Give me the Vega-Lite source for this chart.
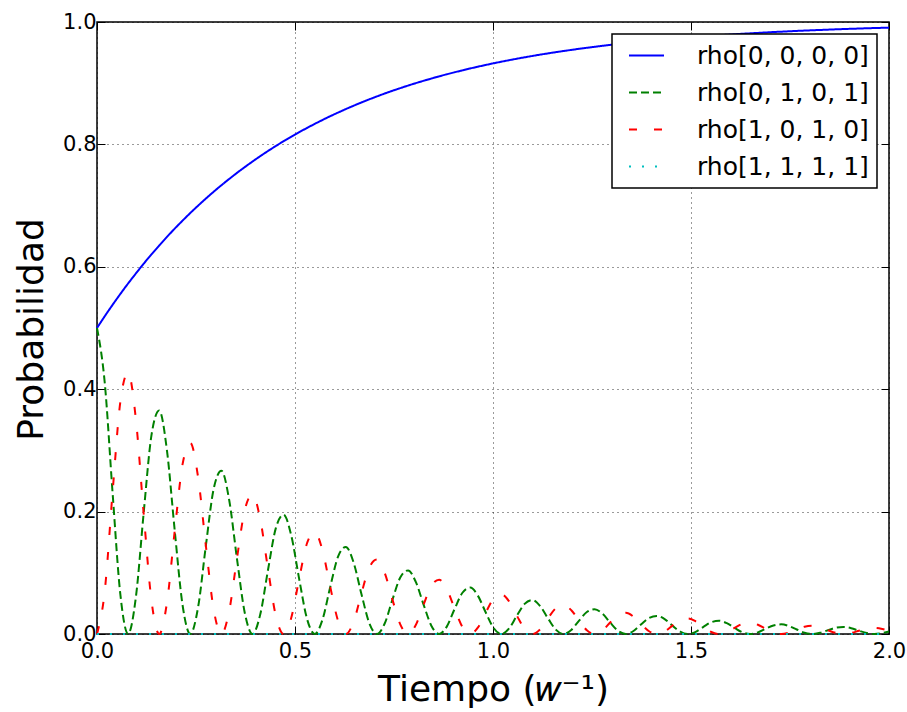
{
"$schema": "https://vega.github.io/schema/vega-lite/v6.json",
"width": 792, "height": 612,
"autosize": {"type": "none"},
"padding": {"left": 97, "top": 22, "right": 18, "bottom": 78},
"background": "white",
"config": {
  "font": "DejaVu Sans",
  "view": {"stroke": "black", "strokeWidth": 1.5},
  "axis": {"labelFont": "DejaVu Sans", "labelFontSize": 21, "labelColor": "black", "tickColor": "black", "tickSize": -8, "tickWidth": 1, "domain": false, "grid": true, "gridColor": "black", "gridDash": [1, 4], "gridWidth": 0.8, "gridOpacity": 1, "titleFont": "DejaVu Sans", "titleFontSize": 36, "titleFontWeight": "normal", "titleColor": "black", "labelFlush": false, "labelOverlap": false},
  "legend": {"orient": "top-right", "offset": 12, "strokeColor": "black", "strokeWidth": 1.5, "fillColor": "white", "padding": 8, "labelFont": "DejaVu Sans", "labelFontSize": 25, "labelColor": "black", "labelLimit": 0, "symbolType": "M-1.4,0L1.4,0", "symbolSize": 625, "symbolStrokeWidth": 2, "symbolOffset": 13, "labelOffset": 37, "rowPadding": 10, "cornerRadius": 0}
},
"data": {"values": [
{"t":0,"a":0.5,"b":0.5,"c":0,"d":0},
{"t":0.0196,"a":0.5193,"b":0.4103,"c":0.0704,"d":0},
{"t":0.0393,"a":0.5378,"b":0.2311,"c":0.2311,"d":0},
{"t":0.0589,"a":0.5556,"b":0.0651,"c":0.3793,"d":0},
{"t":0.0785,"a":0.5727,"b":0,"c":0.4273,"d":0},
{"t":0.0982,"a":0.5891,"b":0.0602,"c":0.3507,"d":0},
{"t":0.1178,"a":0.6050,"b":0.1975,"c":0.1975,"d":0},
{"t":0.1374,"a":0.6202,"b":0.3242,"c":0.0556,"d":0},
{"t":0.1571,"a":0.6348,"b":0.3652,"c":0,"d":0},
{"t":0.1767,"a":0.6489,"b":0.2997,"c":0.0514,"d":0},
{"t":0.1963,"a":0.6624,"b":0.1688,"c":0.1688,"d":0},
{"t":0.2160,"a":0.6754,"b":0.0475,"c":0.2771,"d":0},
{"t":0.2356,"a":0.6879,"b":0,"c":0.3121,"d":0},
{"t":0.2553,"a":0.6999,"b":0.0439,"c":0.2561,"d":0},
{"t":0.2749,"a":0.7115,"b":0.1443,"c":0.1443,"d":0},
{"t":0.2945,"a":0.7226,"b":0.2368,"c":0.0406,"d":0},
{"t":0.3142,"a":0.7333,"b":0.2667,"c":0,"d":0},
{"t":0.3338,"a":0.7435,"b":0.2189,"c":0.0376,"d":0},
{"t":0.3534,"a":0.7534,"b":0.1233,"c":0.1233,"d":0},
{"t":0.3731,"a":0.7629,"b":0.0347,"c":0.2024,"d":0},
{"t":0.3927,"a":0.7720,"b":0,"c":0.2280,"d":0},
{"t":0.4123,"a":0.7808,"b":0.0321,"c":0.1871,"d":0},
{"t":0.4320,"a":0.7893,"b":0.1054,"c":0.1054,"d":0},
{"t":0.4516,"a":0.7974,"b":0.1730,"c":0.0297,"d":0},
{"t":0.4712,"a":0.8052,"b":0.1948,"c":0,"d":0},
{"t":0.4909,"a":0.8127,"b":0.1599,"c":0.0274,"d":0},
{"t":0.5105,"a":0.8199,"b":0.0901,"c":0.0901,"d":0},
{"t":0.5301,"a":0.8268,"b":0.0254,"c":0.1478,"d":0},
{"t":0.5498,"a":0.8335,"b":0,"c":0.1665,"d":0},
{"t":0.5694,"a":0.8399,"b":0.0234,"c":0.1367,"d":0},
{"t":0.5890,"a":0.8461,"b":0.0770,"c":0.0770,"d":0},
{"t":0.6087,"a":0.8520,"b":0.1263,"c":0.0217,"d":0},
{"t":0.6283,"a":0.8577,"b":0.1423,"c":0,"d":0},
{"t":0.6480,"a":0.8632,"b":0.1168,"c":0.0200,"d":0},
{"t":0.6676,"a":0.8684,"b":0.0658,"c":0.0658,"d":0},
{"t":0.6872,"a":0.8735,"b":0.0185,"c":0.1080,"d":0},
{"t":0.7069,"a":0.8784,"b":0,"c":0.1216,"d":0},
{"t":0.7265,"a":0.8831,"b":0.0171,"c":0.0998,"d":0},
{"t":0.7461,"a":0.8876,"b":0.0562,"c":0.0562,"d":0},
{"t":0.7658,"a":0.8919,"b":0.0923,"c":0.0158,"d":0},
{"t":0.7854,"a":0.8961,"b":0.1039,"c":0,"d":0},
{"t":0.8050,"a":0.9001,"b":0.0853,"c":0.0146,"d":0},
{"t":0.8247,"a":0.9039,"b":0.0480,"c":0.0480,"d":0},
{"t":0.8443,"a":0.9076,"b":0.0135,"c":0.0789,"d":0},
{"t":0.8639,"a":0.9112,"b":0,"c":0.0888,"d":0},
{"t":0.8836,"a":0.9146,"b":0.0125,"c":0.0729,"d":0},
{"t":0.9032,"a":0.9179,"b":0.0411,"c":0.0411,"d":0},
{"t":0.9228,"a":0.9210,"b":0.0674,"c":0.0116,"d":0},
{"t":0.9425,"a":0.9241,"b":0.0759,"c":0,"d":0},
{"t":0.9621,"a":0.9270,"b":0.0623,"c":0.0107,"d":0},
{"t":0.9817,"a":0.9298,"b":0.0351,"c":0.0351,"d":0},
{"t":1.0014,"a":0.9325,"b":0.0099,"c":0.0576,"d":0},
{"t":1.0210,"a":0.9351,"b":0,"c":0.0649,"d":0},
{"t":1.0407,"a":0.9376,"b":0.0091,"c":0.0532,"d":0},
{"t":1.0603,"a":0.9400,"b":0.0300,"c":0.0300,"d":0},
{"t":1.0799,"a":0.9423,"b":0.0492,"c":0.0084,"d":0},
{"t":1.0996,"a":0.9445,"b":0.0555,"c":0,"d":0},
{"t":1.1192,"a":0.9467,"b":0.0455,"c":0.0078,"d":0},
{"t":1.1388,"a":0.9487,"b":0.0256,"c":0.0256,"d":0},
{"t":1.1585,"a":0.9507,"b":0.0072,"c":0.0421,"d":0},
{"t":1.1781,"a":0.9526,"b":0,"c":0.0474,"d":0},
{"t":1.1977,"a":0.9544,"b":0.0067,"c":0.0389,"d":0},
{"t":1.2174,"a":0.9562,"b":0.0219,"c":0.0219,"d":0},
{"t":1.2370,"a":0.9579,"b":0.0360,"c":0.0062,"d":0},
{"t":1.2566,"a":0.9595,"b":0.0405,"c":0,"d":0},
{"t":1.2763,"a":0.9611,"b":0.0332,"c":0.0057,"d":0},
{"t":1.2959,"a":0.9626,"b":0.0187,"c":0.0187,"d":0},
{"t":1.3155,"a":0.9640,"b":0.0053,"c":0.0307,"d":0},
{"t":1.3352,"a":0.9654,"b":0,"c":0.0346,"d":0},
{"t":1.3548,"a":0.9667,"b":0.0049,"c":0.0284,"d":0},
{"t":1.3744,"a":0.9680,"b":0.0160,"c":0.0160,"d":0},
{"t":1.3941,"a":0.9692,"b":0.0263,"c":0.0045,"d":0},
{"t":1.4137,"a":0.9704,"b":0.0296,"c":0,"d":0},
{"t":1.4334,"a":0.9716,"b":0.0243,"c":0.0042,"d":0},
{"t":1.4530,"a":0.9727,"b":0.0137,"c":0.0137,"d":0},
{"t":1.4726,"a":0.9737,"b":0.0039,"c":0.0224,"d":0},
{"t":1.4923,"a":0.9747,"b":0,"c":0.0253,"d":0},
{"t":1.5119,"a":0.9757,"b":0.0036,"c":0.0207,"d":0},
{"t":1.5315,"a":0.9766,"b":0.0117,"c":0.0117,"d":0},
{"t":1.5512,"a":0.9775,"b":0.0192,"c":0.0033,"d":0},
{"t":1.5708,"a":0.9784,"b":0.0216,"c":0,"d":0},
{"t":1.5904,"a":0.9792,"b":0.0177,"c":0.0030,"d":0},
{"t":1.6101,"a":0.9800,"b":0.0100,"c":0.0100,"d":0},
{"t":1.6297,"a":0.9808,"b":0.0028,"c":0.0164,"d":0},
{"t":1.6493,"a":0.9815,"b":0,"c":0.0185,"d":0},
{"t":1.6690,"a":0.9822,"b":0.0026,"c":0.0152,"d":0},
{"t":1.6886,"a":0.9829,"b":0.0085,"c":0.0085,"d":0},
{"t":1.7082,"a":0.9836,"b":0.0140,"c":0.0024,"d":0},
{"t":1.7279,"a":0.9842,"b":0.0158,"c":0,"d":0},
{"t":1.7475,"a":0.9848,"b":0.0130,"c":0.0022,"d":0},
{"t":1.7671,"a":0.9854,"b":0.0073,"c":0.0073,"d":0},
{"t":1.7868,"a":0.9860,"b":0.0021,"c":0.0120,"d":0},
{"t":1.8064,"a":0.9865,"b":0,"c":0.0135,"d":0},
{"t":1.8261,"a":0.9870,"b":0.0019,"c":0.0111,"d":0},
{"t":1.8457,"a":0.9875,"b":0.0062,"c":0.0062,"d":0},
{"t":1.8653,"a":0.9880,"b":0.0102,"c":0.0018,"d":0},
{"t":1.8850,"a":0.9885,"b":0.0115,"c":0,"d":0},
{"t":1.9046,"a":0.9889,"b":0.0095,"c":0.0016,"d":0},
{"t":1.9242,"a":0.9893,"b":0.0053,"c":0.0053,"d":0},
{"t":1.9439,"a":0.9898,"b":0.0015,"c":0.0087,"d":0},
{"t":1.9635,"a":0.9901,"b":0,"c":0.0099,"d":0},
{"t":1.9831,"a":0.9905,"b":0.0014,"c":0.0081,"d":0},
{"t":2.0,"a":0.9908,"b":0.0041,"c":0.0051,"d":0}
]},
"transform": [{"fold": ["a", "b", "c", "d"], "as": ["s", "v"]}],
"layer": [
  {
    "mark": {"type": "line", "strokeWidth": 2, "interpolate": "monotone"},
    "encoding": {
      "x": {"field": "t", "type": "quantitative", "scale": {"domain": [0, 2], "nice": false, "zero": false},
            "axis": {"values": [0, 0.5, 1, 1.5, 2], "format": ".1f", "labelPadding": 14, "title": "Tiempo (𝑤⁻¹)", "titleX": 396, "titleY": 66, "titleBaseline": "alphabetic", "titleAlign": "center"}},
      "y": {"field": "v", "type": "quantitative", "scale": {"domain": [0, 1], "nice": false},
            "axis": {"values": [0, 0.2, 0.4, 0.6, 0.8, 1], "format": ".1f", "labelPadding": 9, "title": "Probabilidad", "titleX": -55, "titleY": 307, "titleAngle": 270, "titleBaseline": "alphabetic", "titleAlign": "center"}},
      "color": {"field": "s", "type": "nominal", "scale": {"domain": ["a", "b", "c", "d"], "range": ["#0000ff", "#008000", "#ff0000", "#00bfbf"]},
                "legend": {"title": null, "labelExpr": "datum.label == 'a' ? 'rho[0, 0, 0, 0]' : datum.label == 'b' ? 'rho[0, 1, 0, 1]' : datum.label == 'c' ? 'rho[1, 0, 1, 0]' : 'rho[1, 1, 1, 1]'"}},
      "strokeDash": {"field": "s", "type": "nominal", "scale": {"domain": ["a", "b", "c", "d"], "range": [[1, 0], [8, 4], [8, 17], [2, 11]]},
                "legend": {"title": null, "labelExpr": "datum.label == 'a' ? 'rho[0, 0, 0, 0]' : datum.label == 'b' ? 'rho[0, 1, 0, 1]' : datum.label == 'c' ? 'rho[1, 0, 1, 0]' : 'rho[1, 1, 1, 1]'"}}
    }
  },
  {
    "mark": {"type": "point", "opacity": 0},
    "encoding": {
      "x": {"field": "t", "type": "quantitative", "axis": {"orient": "top", "values": [0, 0.5, 1, 1.5, 2], "labels": false, "grid": false, "title": null}},
      "y": {"field": "v", "type": "quantitative", "axis": {"orient": "right", "values": [0, 0.2, 0.4, 0.6, 0.8, 1], "labels": false, "grid": false, "title": null}}
    }
  }
],
"resolve": {"axis": {"x": "independent", "y": "independent"}}
}
